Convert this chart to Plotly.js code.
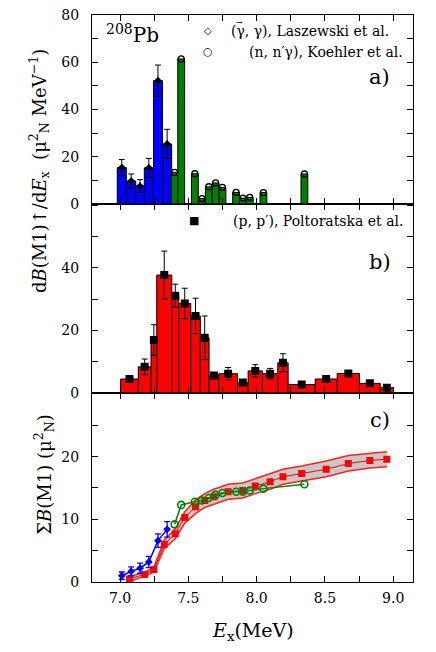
<!DOCTYPE html>
<html>
<head>
<meta charset="utf-8">
<script src="https://cdn.plot.ly/plotly-3.0.1.min.js"></script>
<style>
  html, body { margin: 0; padding: 0; background: #fff; }
  #plot { width: 436px; height: 652px; }
</style>
</head>
<body>
<div id="plot"></div>
<script>
// panel a) (gamma,gamma') Laszewski et al.
const laszE = [7.013, 7.082, 7.147, 7.211, 7.278, 7.345];
const laszB = [15.4, 9.7, 7.6, 15.3, 52.2, 25.4];
const laszErr = [3.4, 3.0, 2.7, 4.0, 6.6, 6.2];

// panel a) (n,n'gamma) Koehler et al.
const koehE = [7.40, 7.448, 7.548, 7.60, 7.65, 7.70, 7.75, 7.85, 7.90, 7.95, 8.05, 8.35];
const koehB = [13.4, 61.4, 12.8, 2.3, 7.3, 8.9, 7.0, 4.9, 2.5, 2.8, 4.8, 12.7];

// panel b) (p,p') Poltoratska et al. - bin edges and strengths
const poltEdges = [7.005, 7.134, 7.227, 7.269, 7.379, 7.430, 7.518, 7.588, 7.652, 7.723,
                   7.860, 7.938, 8.043, 8.155, 8.231, 8.429, 8.590, 8.753, 8.905, 9.002];
const poltB = [4.4, 8.3, 16.9, 37.7, 31.1, 28.6, 24.6, 17.6, 5.5, 6.1,
               3.3, 7.0, 6.1, 9.6, 2.6, 4.4, 6.2, 3.0, 1.6];
const poltErr = [0, 2.5, 4.9, 7.7, 3.7, 4.9, 5.7, 7.0, 0, 2.0,
                 0, 2.0, 1.7, 2.9, 0, 0, 0, 0, 0];

// panel c) running sums
const laszSum = [1.0, 1.7, 2.2, 3.2, 6.6, 8.4];
const laszSumErr = [0.6, 0.7, 0.8, 0.9, 1.07, 1.25];
const koehSum = [9.2, 12.3, 12.8, 13.0, 13.4, 13.9, 14.2, 14.4, 14.4, 14.6, 14.9, 15.6];
const poltSum = [0.5, 1.2, 2.0, 6.0, 7.7, 10.3, 12.0, 13.0, 13.6, 14.4,
                 14.6, 15.3, 16.0, 16.8, 17.3, 18.0, 18.9, 19.4, 19.6];
const poltSumHi = [0.9, 1.5, 2.4, 6.7, 8.5, 11.2, 13.1, 14.1, 14.8, 15.6,
                   15.8, 16.5, 17.3, 18.0, 18.5, 19.3, 20.2, 20.6, 20.8];
const poltSumLo = [0.1, 0.9, 1.6, 5.3, 6.9, 9.4, 10.9, 11.9, 12.4, 13.2,
                   13.4, 14.1, 14.8, 15.6, 16.1, 16.8, 17.7, 18.2, 18.4];

// ticks
const xTicks = [7.0, 7.25, 7.5, 7.75, 8.0, 8.25, 8.5, 8.75, 9.0];
const xTickText = ["7.0", "", "7.5", "", "8.0", "", "8.5", "", "9.0"];
const yaTicks = [0, 10, 20, 30, 40, 50, 60, 70, 80];
const yaTickText = ["0", "", "20", "", "40", "", "60", "", "80"];
const ybTicks = [0, 10, 20, 30, 40, 50, 60];
const ybTickText = ["0", "", "20", "", "40", "", ""];
const ycTicks = [0, 5, 10, 15, 20, 25, 30];
const ycTickText = ["0", "", "10", "", "20", "", ""];

const poltE = poltB.map((_, i) => (poltEdges[i] + poltEdges[i + 1]) / 2);
const poltW = poltB.map((_, i) => poltEdges[i + 1] - poltEdges[i]);

const FONT = "DejaVu Serif";
const outline = { color: "black", width: 1 };

const traces = [
  // a)
  { x: laszE, y: laszB, type: "bar", width: 0.066, xaxis: "x3", yaxis: "y3",
    marker: { color: "#0000ff", line: outline } },
  { x: koehE, y: koehB, type: "bar", width: 0.05, xaxis: "x3", yaxis: "y3",
    marker: { color: "#007f00", line: outline } },
  { x: laszE, y: laszB, mode: "markers", type: "scatter", xaxis: "x3", yaxis: "y3",
    marker: { symbol: "diamond", size: 6, color: "black" },
    error_y: { type: "data", array: laszErr, color: "black", thickness: 1, width: 3 } },
  { x: koehE, y: koehB, mode: "markers", type: "scatter", xaxis: "x3", yaxis: "y3",
    marker: { symbol: "circle-open", size: 6, color: "black", line: { width: 1.3 } } },

  // b)
  { x: poltE, y: poltB, width: poltW, type: "bar", xaxis: "x2", yaxis: "y2",
    marker: { color: "#ff0000", line: outline } },
  { x: poltE, y: poltB, mode: "markers", type: "scatter", xaxis: "x2", yaxis: "y2",
    marker: { symbol: "square", size: 8, color: "black" },
    error_y: { type: "data", array: poltErr, color: "black", thickness: 1, width: 3 } },

  // c)
  { x: poltE, y: poltSumLo, mode: "lines", type: "scatter",
    line: { color: "#ff2020", width: 1.5 } },
  { x: poltE, y: poltSumHi, mode: "lines", type: "scatter", fill: "tonexty",
    fillcolor: "#c8c8c8", line: { color: "#ff2020", width: 1.5 } },
  { x: poltE, y: poltSum, mode: "lines+markers", type: "scatter",
    line: { color: "#ff0000", width: 1 },
    marker: { symbol: "square", size: 7, color: "#ff0000" } },
  { x: koehE, y: koehSum, mode: "lines+markers", type: "scatter",
    line: { color: "#008000", width: 1.5 },
    marker: { symbol: "circle-open", size: 7, color: "#008000", line: { width: 1.6 } } },
  { x: laszE, y: laszSum, mode: "lines+markers", type: "scatter",
    line: { color: "#0000ff", width: 1.5 },
    marker: { symbol: "diamond", size: 6, color: "#0000ff" },
    error_y: { type: "data", array: laszSumErr, color: "#0000ff", thickness: 1.3, width: 3 } }
];

const xBase = {
  range: [6.795, 9.145], tickmode: "array", tickvals: xTicks, ticktext: xTickText,
  ticks: "inside", ticklen: 6, tickcolor: "black", showline: true, linecolor: "black",
  linewidth: 1, mirror: "ticks", showgrid: false, zeroline: false,
  tickfont: { family: FONT, size: 14, color: "black" }, ticklabelstandoff: 3
};
const yBase = {
  tickmode: "array", ticks: "inside", ticklen: 6, tickcolor: "black", showline: true,
  linecolor: "black", linewidth: 1, mirror: "ticks", showgrid: false, zeroline: false,
  tickfont: { family: FONT, size: 14, color: "black" }, ticklabelstandoff: 9
};

function note(x, y, text, size, extra) {
  return Object.assign({ xref: "paper", yref: "paper", x: x, y: y, text: text,
    showarrow: false, xanchor: "center", yanchor: "middle",
    font: { family: FONT, size: size, color: "black" } }, extra || {});
}

const layout = {
  width: 436, height: 652,
  margin: { l: 92, r: 23, t: 15, b: 70 },
  paper_bgcolor: "white", plot_bgcolor: "white",
  showlegend: false, barmode: "overlay",
  xaxis: Object.assign({}, xBase, { anchor: "y" }),
  xaxis2: Object.assign({}, xBase, { anchor: "y2", matches: "x", showticklabels: false }),
  xaxis3: Object.assign({}, xBase, { anchor: "y3", matches: "x", showticklabels: false }),
  yaxis: Object.assign({}, yBase, { domain: [0, 0.3338], range: [0, 30.2],
    tickvals: ycTicks, ticktext: ycTickText }),
  yaxis2: Object.assign({}, yBase, { domain: [0.3338, 0.6667], range: [0, 60.5],
    tickvals: ybTicks, ticktext: ybTickText }),
  yaxis3: Object.assign({}, yBase, { domain: [0.6667, 1], range: [0, 80],
    tickvals: yaTicks, ticktext: yaTickText }),
  annotations: [
    note(0.5, -0.088, "<i>E</i><sub>x</sub>(MeV)", 19),
    note(-0.165, 0.725,
      "d<i>B</i>(M1)\u2191/d<i>E</i><sub>x</sub>  (\u03bc<sup>2</sup><sub>N</sub> MeV<sup>\u22121</sup>)",
      18, { textangle: -90 }),
    note(-0.15, 0.189, "\u03a3<i>B</i>(M1) (\u03bc<sup>2</sup><sub>N</sub>)", 18, { textangle: -90 }),
    note(0.126, 0.967, "<sup>208</sup>Pb", 20),
    note(0.361, 0.972, "\u25c7", 10),
    note(0.428, 0.972, "(\u03b3, \u03b3), Laszewski et al.", 14, { xanchor: "left" }),
    note(0.459, 0.987, "\u2192", 8),
    note(0.361, 0.935, "\u25cb", 11),
    note(0.975, 0.935, "(n, n\u2032\u03b3), Koehler et al.", 14, { xanchor: "right" }),
    note(0.897, 0.891, "a)", 21),
    note(0.318, 0.637, "\u25a0", 11),
    note(0.975, 0.637, "(p, p\u2032), Poltoratska et al.", 14, { xanchor: "right" }),
    note(0.897, 0.564, "b)", 21),
    note(0.897, 0.286, "c)", 21)
  ]
};

Plotly.newPlot("plot", traces, layout, { displayModeBar: false, staticPlot: true });
</script>
</body>
</html>
